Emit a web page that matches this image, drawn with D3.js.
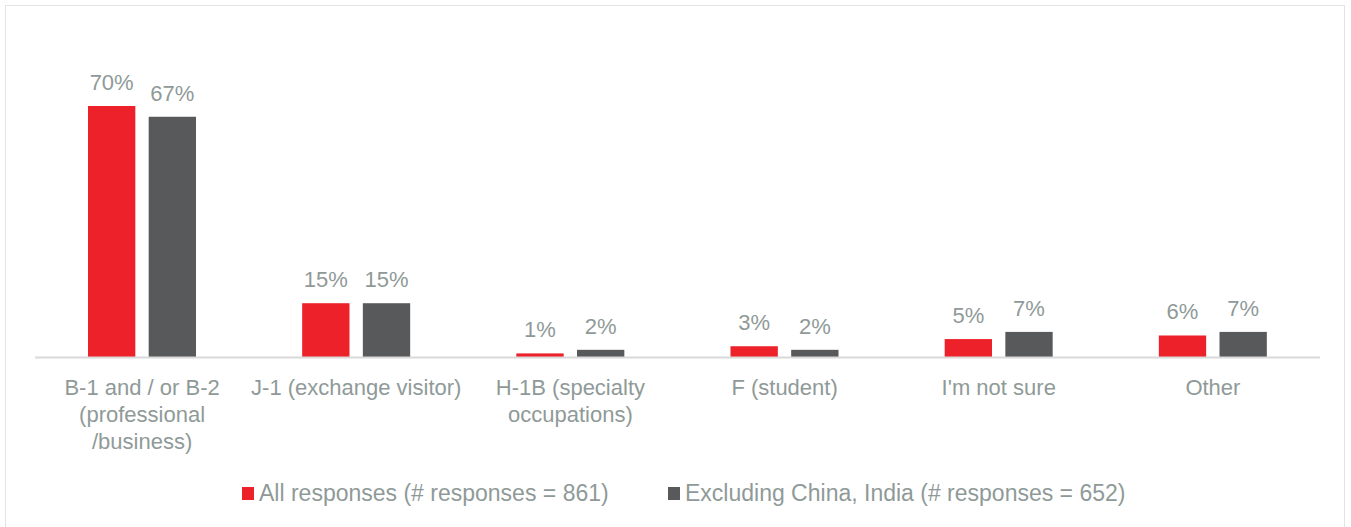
<!DOCTYPE html>
<html>
<head>
<meta charset="utf-8">
<script src="https://cdn.jsdelivr.net/npm/d3@7"></script>
<style>
  html, body { margin: 0; padding: 0; background: #fff; }
  svg text { font-family: "Liberation Sans", Arial, sans-serif; }
</style>
</head>
<body>
<svg id="chart" width="1351" height="527"></svg>
<script>
// Visa types and share of respondents for each group
const categories = [
  ["B-1 and / or B-2", "(professional", "/business)"],
  ["J-1 (exchange visitor)"],
  ["H-1B (specialty", "occupations)"],
  ["F (student)"],
  ["I'm not sure"],
  ["Other"]
];
const allResponses = [70, 15, 1, 3, 5, 6];
const excludingChinaIndia = [67, 15, 2, 2, 7, 7];
const seriesNames = [
  "All responses (# responses = 861)",
  "Excluding China, India (# responses = 652)"
];
const seriesColors = ["#ED2129", "#58595B"];

const W = 1351, H = 527;
const svg = d3.select("#chart");
const textColor = "#8f9a98";

// outer frame
svg.append("rect")
  .attr("x", 5.5).attr("y", 5.5)
  .attr("width", 1339).attr("height", 530)
  .attr("fill", "none").attr("stroke", "#e3e3e3").attr("stroke-width", 1);

const margin = { left: 35, right: 31 };
const baseline = 357;
const keys = categories.map((c, i) => i);

const x0 = d3.scaleBand().domain(keys).range([margin.left, W - margin.right]).paddingInner(0).paddingOuter(0);
const x1 = d3.scaleBand().domain([0, 1]).range([53, 161]).paddingInner(0.22).paddingOuter(0);
const y = d3.scaleLinear().domain([0, 70]).range([baseline, 106]);

const series = [allResponses, excludingChinaIndia];

const groups = svg.selectAll("g.cat").data(keys).join("g")
  .attr("class", "cat")
  .attr("transform", d => `translate(${x0(d)},0)`);

series.forEach((vals, s) => {
  groups.append("rect")
    .attr("x", x1(s))
    .attr("width", x1.bandwidth())
    .attr("y", d => y(vals[d]))
    .attr("height", d => baseline - y(vals[d]))
    .attr("fill", seriesColors[s]);
  groups.append("text")
    .attr("x", x1(s) + x1.bandwidth() / 2)
    .attr("y", d => y(vals[d]) - 16)
    .attr("text-anchor", "middle")
    .attr("font-size", 22)
    .attr("fill", textColor)
    .text(d => vals[d] + "%");
});

// category axis line
svg.append("line")
  .attr("x1", margin.left).attr("x2", W - margin.right)
  .attr("y1", baseline + 0.5).attr("y2", baseline + 0.5)
  .attr("stroke", "#d9d9d9").attr("stroke-width", 2);

// category labels
groups.append("text")
  .attr("text-anchor", "middle")
  .attr("font-size", 22)
  .attr("fill", textColor)
  .each(function(d) {
    d3.select(this).selectAll("tspan").data(categories[d]).join("tspan")
      .attr("x", x0.bandwidth() / 2)
      .attr("y", (t, i) => 395 + i * 27)
      .text(t => t);
  });

// legend
const legendItems = [
  { x: 242, name: seriesNames[0], color: seriesColors[0] },
  { x: 668, name: seriesNames[1], color: seriesColors[1] }
];
const lg = svg.selectAll("g.legend").data(legendItems).join("g")
  .attr("class", "legend")
  .attr("transform", d => `translate(${d.x},0)`);
lg.append("rect").attr("x", 0).attr("y", 487).attr("width", 12).attr("height", 13)
  .attr("fill", d => d.color);
lg.append("text").attr("x", 17).attr("y", 501)
  .attr("font-size", 23).attr("fill", textColor)
  .text(d => d.name);
</script>
</body>
</html>
